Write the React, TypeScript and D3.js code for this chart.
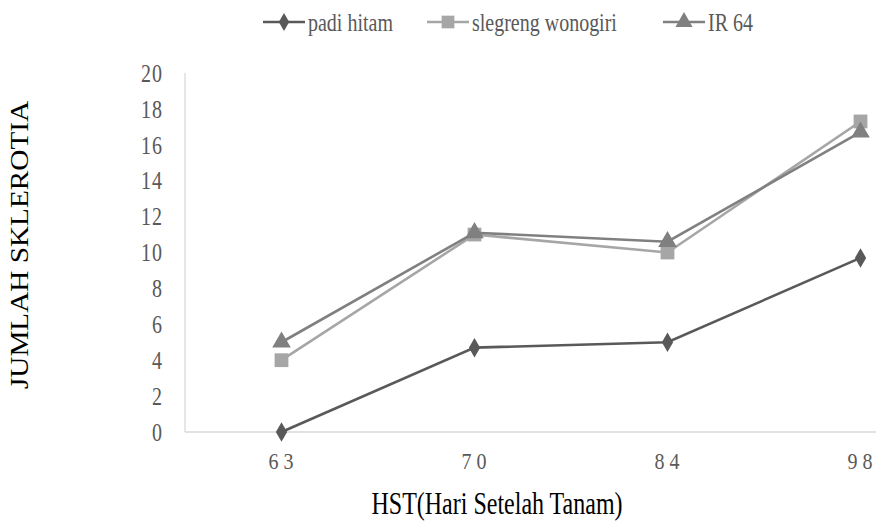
import React, { useRef, useEffect } from 'react';
import * as d3 from 'd3';

const categories = ['63', '70', '84', '98'];
const padiHitam = [0, 4.7, 5.0, 9.7];
const slegrengWonogiri = [4.0, 11.0, 10.0, 17.3];
const ir64 = [5.0, 11.1, 10.6, 16.7];
const yTicks = [0, 2, 4, 6, 8, 10, 12, 14, 16, 18, 20];

const seriesList = [
  { name: 'padi hitam', values: padiHitam, color: '#595959', shape: 'diamond' },
  { name: 'slegreng wonogiri', values: slegrengWonogiri, color: '#a6a6a6', shape: 'square' },
  { name: 'IR 64', values: ir64, color: '#808080', shape: 'triangle' }
];

const width = 876;
const height = 527;
const font = "'Liberation Serif', 'Times New Roman', serif";

const symbolFor = (shape: string) =>
  shape === 'diamond' ? d3.symbolDiamond : shape === 'square' ? d3.symbolSquare : d3.symbolTriangle;
const sizeFor = (shape: string) => (shape === 'diamond' ? 110 : shape === 'square' ? 190 : 150);

export default function App() {
  const svgRef = useRef<SVGSVGElement>(null);

  useEffect(() => {
    if (!svgRef.current) return;
    const svg = d3.select(svgRef.current);
    svg.selectAll('*').remove();

    const left = 185;
    const top = 73;
    const bottom = 432;

    const x = d3.scaleBand<string>().domain(categories).range([left, left + 193 * 4]);
    const y = d3.scaleLinear().domain([0, 20]).range([bottom, top]);
    const cx = (c: string) => (x(c) as number) + x.bandwidth() / 2;

    // the source picture is stretched vertically, so text gets a y-scale
    const label = (tx: number, ty: number, sy: number, extra = '') =>
      svg.append('g').attr('transform', `translate(${tx},${ty}) scale(1,${sy}) ${extra}`)
        .append('text')
        .style('font-family', font);

    // axis lines
    svg.append('line')
      .attr('x1', left).attr('x2', left)
      .attr('y1', top).attr('y2', bottom)
      .attr('stroke', '#d9d9d9').attr('stroke-width', 1.3);
    svg.append('line')
      .attr('x1', left).attr('x2', width)
      .attr('y1', bottom).attr('y2', bottom)
      .attr('stroke', '#d9d9d9').attr('stroke-width', 1.3);

    // y tick labels
    yTicks.forEach(t => {
      label(163, y(t), 1.25)
        .attr('dy', '0.35em')
        .attr('text-anchor', 'end')
        .attr('letter-spacing', 1)
        .style('font-size', '20px')
        .attr('fill', '#595959')
        .text(t);
    });

    // x tick labels
    categories.forEach(c => {
      label(cx(c) + 2, 469, 1.2)
        .attr('text-anchor', 'middle')
        .attr('letter-spacing', 5)
        .style('font-size', '20px')
        .attr('fill', '#595959')
        .text(c);
    });

    const line = d3.line<number>()
      .x((_, i) => cx(categories[i]))
      .y(d => y(d));

    seriesList.forEach(s => {
      svg.append('path')
        .datum(s.values)
        .attr('fill', 'none')
        .attr('stroke', s.color)
        .attr('stroke-width', 2.6)
        .attr('d', line);
      svg.append('g')
        .selectAll('path')
        .data(s.values)
        .enter()
        .append('path')
        .attr('transform', (d, i) => `translate(${cx(categories[i])},${y(d)})`)
        .attr('d', d3.symbol().type(symbolFor(s.shape)).size(sizeFor(s.shape))())
        .attr('fill', s.color);
    });

    // legend
    const legendX = [263, 427, 663];
    seriesList.forEach((s, i) => {
      const g = svg.append('g').attr('transform', `translate(${legendX[i]},22)`);
      g.append('line')
        .attr('x1', 0).attr('x2', 42)
        .attr('y1', 0).attr('y2', 0)
        .attr('stroke', s.color).attr('stroke-width', 2.6);
      g.append('path')
        .attr('transform', 'translate(21,0)')
        .attr('d', d3.symbol().type(symbolFor(s.shape)).size(sizeFor(s.shape) * 0.85)())
        .attr('fill', s.color);
      label(legendX[i] + 45, 22, 1.25)
        .attr('dy', '0.35em')
        .style('font-size', '20px')
        .attr('fill', '#595959')
        .text(s.name);
    });

    // axis titles
    label(28, 245, 1.17, 'rotate(-90)')
      .attr('text-anchor', 'middle')
      .style('font-size', '25px')
      .attr('fill', '#000')
      .text('JUMLAH SKLEROTIA');

    label(497, 514, 1.3)
      .attr('text-anchor', 'middle')
      .style('font-size', '24px')
      .attr('fill', '#000')
      .text('HST(Hari Setelah Tanam)');
  }, []);

  return (
    <div style={{ position: 'absolute', left: 0, top: 0 }}>
      <svg ref={svgRef} width={width} height={height} style={{ display: 'block', background: '#fff' }} />
    </div>
  );
}
